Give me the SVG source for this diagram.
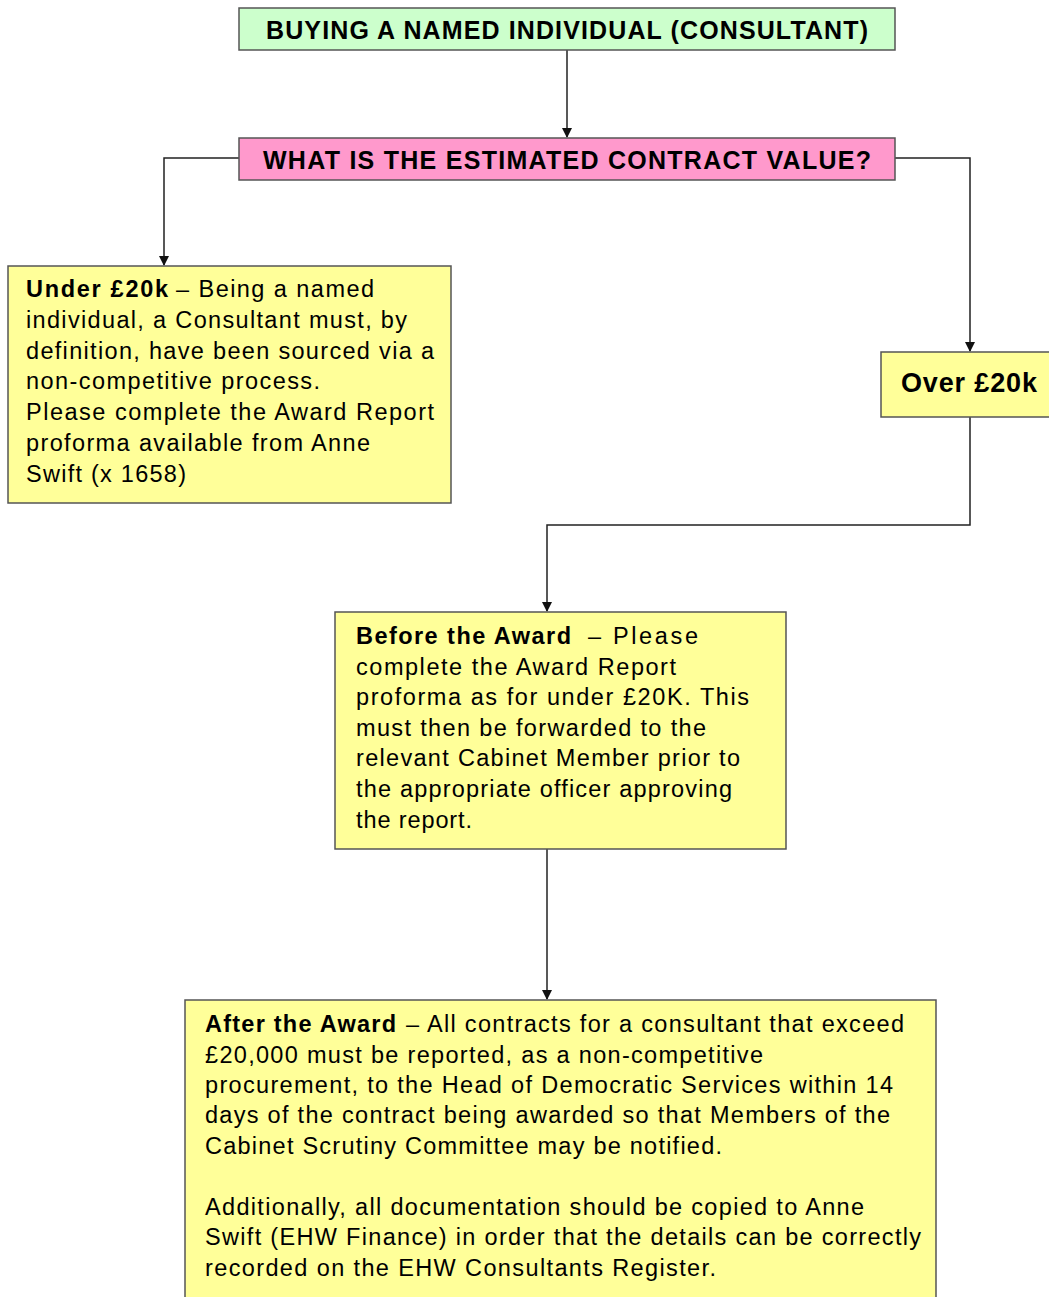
<svg xmlns="http://www.w3.org/2000/svg" width="1049" height="1297" viewBox="0 0 1049 1297">
<style>
.box{stroke:#555;stroke-width:1.5}
.g{fill:#ccffcc}.p{fill:#ff99cc}.y{fill:#ffff99}
text{font-family:"Liberation Sans",Arial,sans-serif;fill:#000}
.h{font-size:25px;font-weight:bold}
.t{font-size:23.5px}
.b{font-weight:bold}
.c{fill:none;stroke:#222;stroke-width:1.5}
</style>
<defs>
<marker id="ah" markerWidth="10" markerHeight="10" refX="9" refY="5" orient="auto" markerUnits="userSpaceOnUse">
<path d="M0,0 L10,5 L0,10 z" fill="#111"/>
</marker>
</defs>
<g id="connectors">
<path class="c" d="M567,50 V137" marker-end="url(#ah)"/>
<path class="c" d="M239,158 H164 V265" marker-end="url(#ah)"/>
<path class="c" d="M895,158 H970 V351" marker-end="url(#ah)"/>
<path class="c" d="M970,417 V525 H547 V611" marker-end="url(#ah)"/>
<path class="c" d="M547,849 V999" marker-end="url(#ah)"/>
</g>
<g id="title">
<rect class="box g" x="239" y="8" width="656" height="42"/>
<text class="h" x="266" y="39" textLength="602">BUYING A NAMED INDIVIDUAL (CONSULTANT)</text>
</g>
<g id="question">
<rect class="box p" x="239" y="138" width="656" height="42"/>
<text class="h" x="263" y="169" textLength="608">WHAT IS THE ESTIMATED CONTRACT VALUE?</text>
</g>
<g id="under">
<rect class="box y" x="8" y="266" width="443" height="237"/>
<text class="t b" x="26" y="297" textLength="142">Under £20k</text>
<text class="t" x="176" y="297" textLength="198">– Being a named</text>
<text class="t" x="26" y="328" textLength="381">individual, a Consultant must, by</text>
<text class="t" x="26" y="359" textLength="408">definition, have been sourced via a</text>
<text class="t" x="26" y="389" textLength="294">non-competitive process.</text>
<text class="t" x="26" y="420" textLength="408">Please complete the Award Report</text>
<text class="t" x="26" y="451" textLength="344">proforma available from Anne</text>
<text class="t" x="26" y="482" textLength="160">Swift (x 1658)</text>
</g>
<g id="over">
<rect class="box y" x="881" y="352" width="175" height="65"/>
<text x="901" y="392" style="font-size:27px;font-weight:bold" textLength="136">Over £20k</text>
</g>
<g id="before">
<rect class="box y" x="335" y="612" width="451" height="237"/>
<text class="t b" x="356" y="644" textLength="215">Before the Award</text>
<text class="t" x="588" y="644" textLength="110">–  Please</text>
<text class="t" x="356" y="675" textLength="320">complete the Award Report</text>
<text class="t" x="356" y="705" textLength="393">proforma as for under £20K.  This</text>
<text class="t" x="356" y="736" textLength="350">must then be forwarded to the</text>
<text class="t" x="356" y="766" textLength="384">relevant Cabinet Member prior to</text>
<text class="t" x="356" y="797" textLength="376">the appropriate officer approving</text>
<text class="t" x="356" y="828" textLength="116">the report.</text>
</g>
<g id="after">
<rect class="box y" x="185" y="1000" width="751" height="310"/>
<text class="t b" x="205" y="1032" textLength="191">After the Award</text>
<text class="t" x="406" y="1032" textLength="498">– All contracts for a consultant that exceed</text>
<text class="t" x="205" y="1063" textLength="558">£20,000 must be reported, as a non-competitive</text>
<text class="t" x="205" y="1093" textLength="688">procurement, to the Head of Democratic Services within 14</text>
<text class="t" x="205" y="1123" textLength="685">days of the contract being awarded so that Members of the</text>
<text class="t" x="205" y="1154" textLength="517">Cabinet Scrutiny Committee may be notified.</text>
<text class="t" x="205" y="1215" textLength="659">Additionally,  all documentation should be copied to Anne</text>
<text class="t" x="205" y="1245" textLength="716">Swift (EHW Finance) in order that the details can be correctly</text>
<text class="t" x="205" y="1276" textLength="511">recorded on the EHW Consultants Register.</text>
</g>
</svg>
